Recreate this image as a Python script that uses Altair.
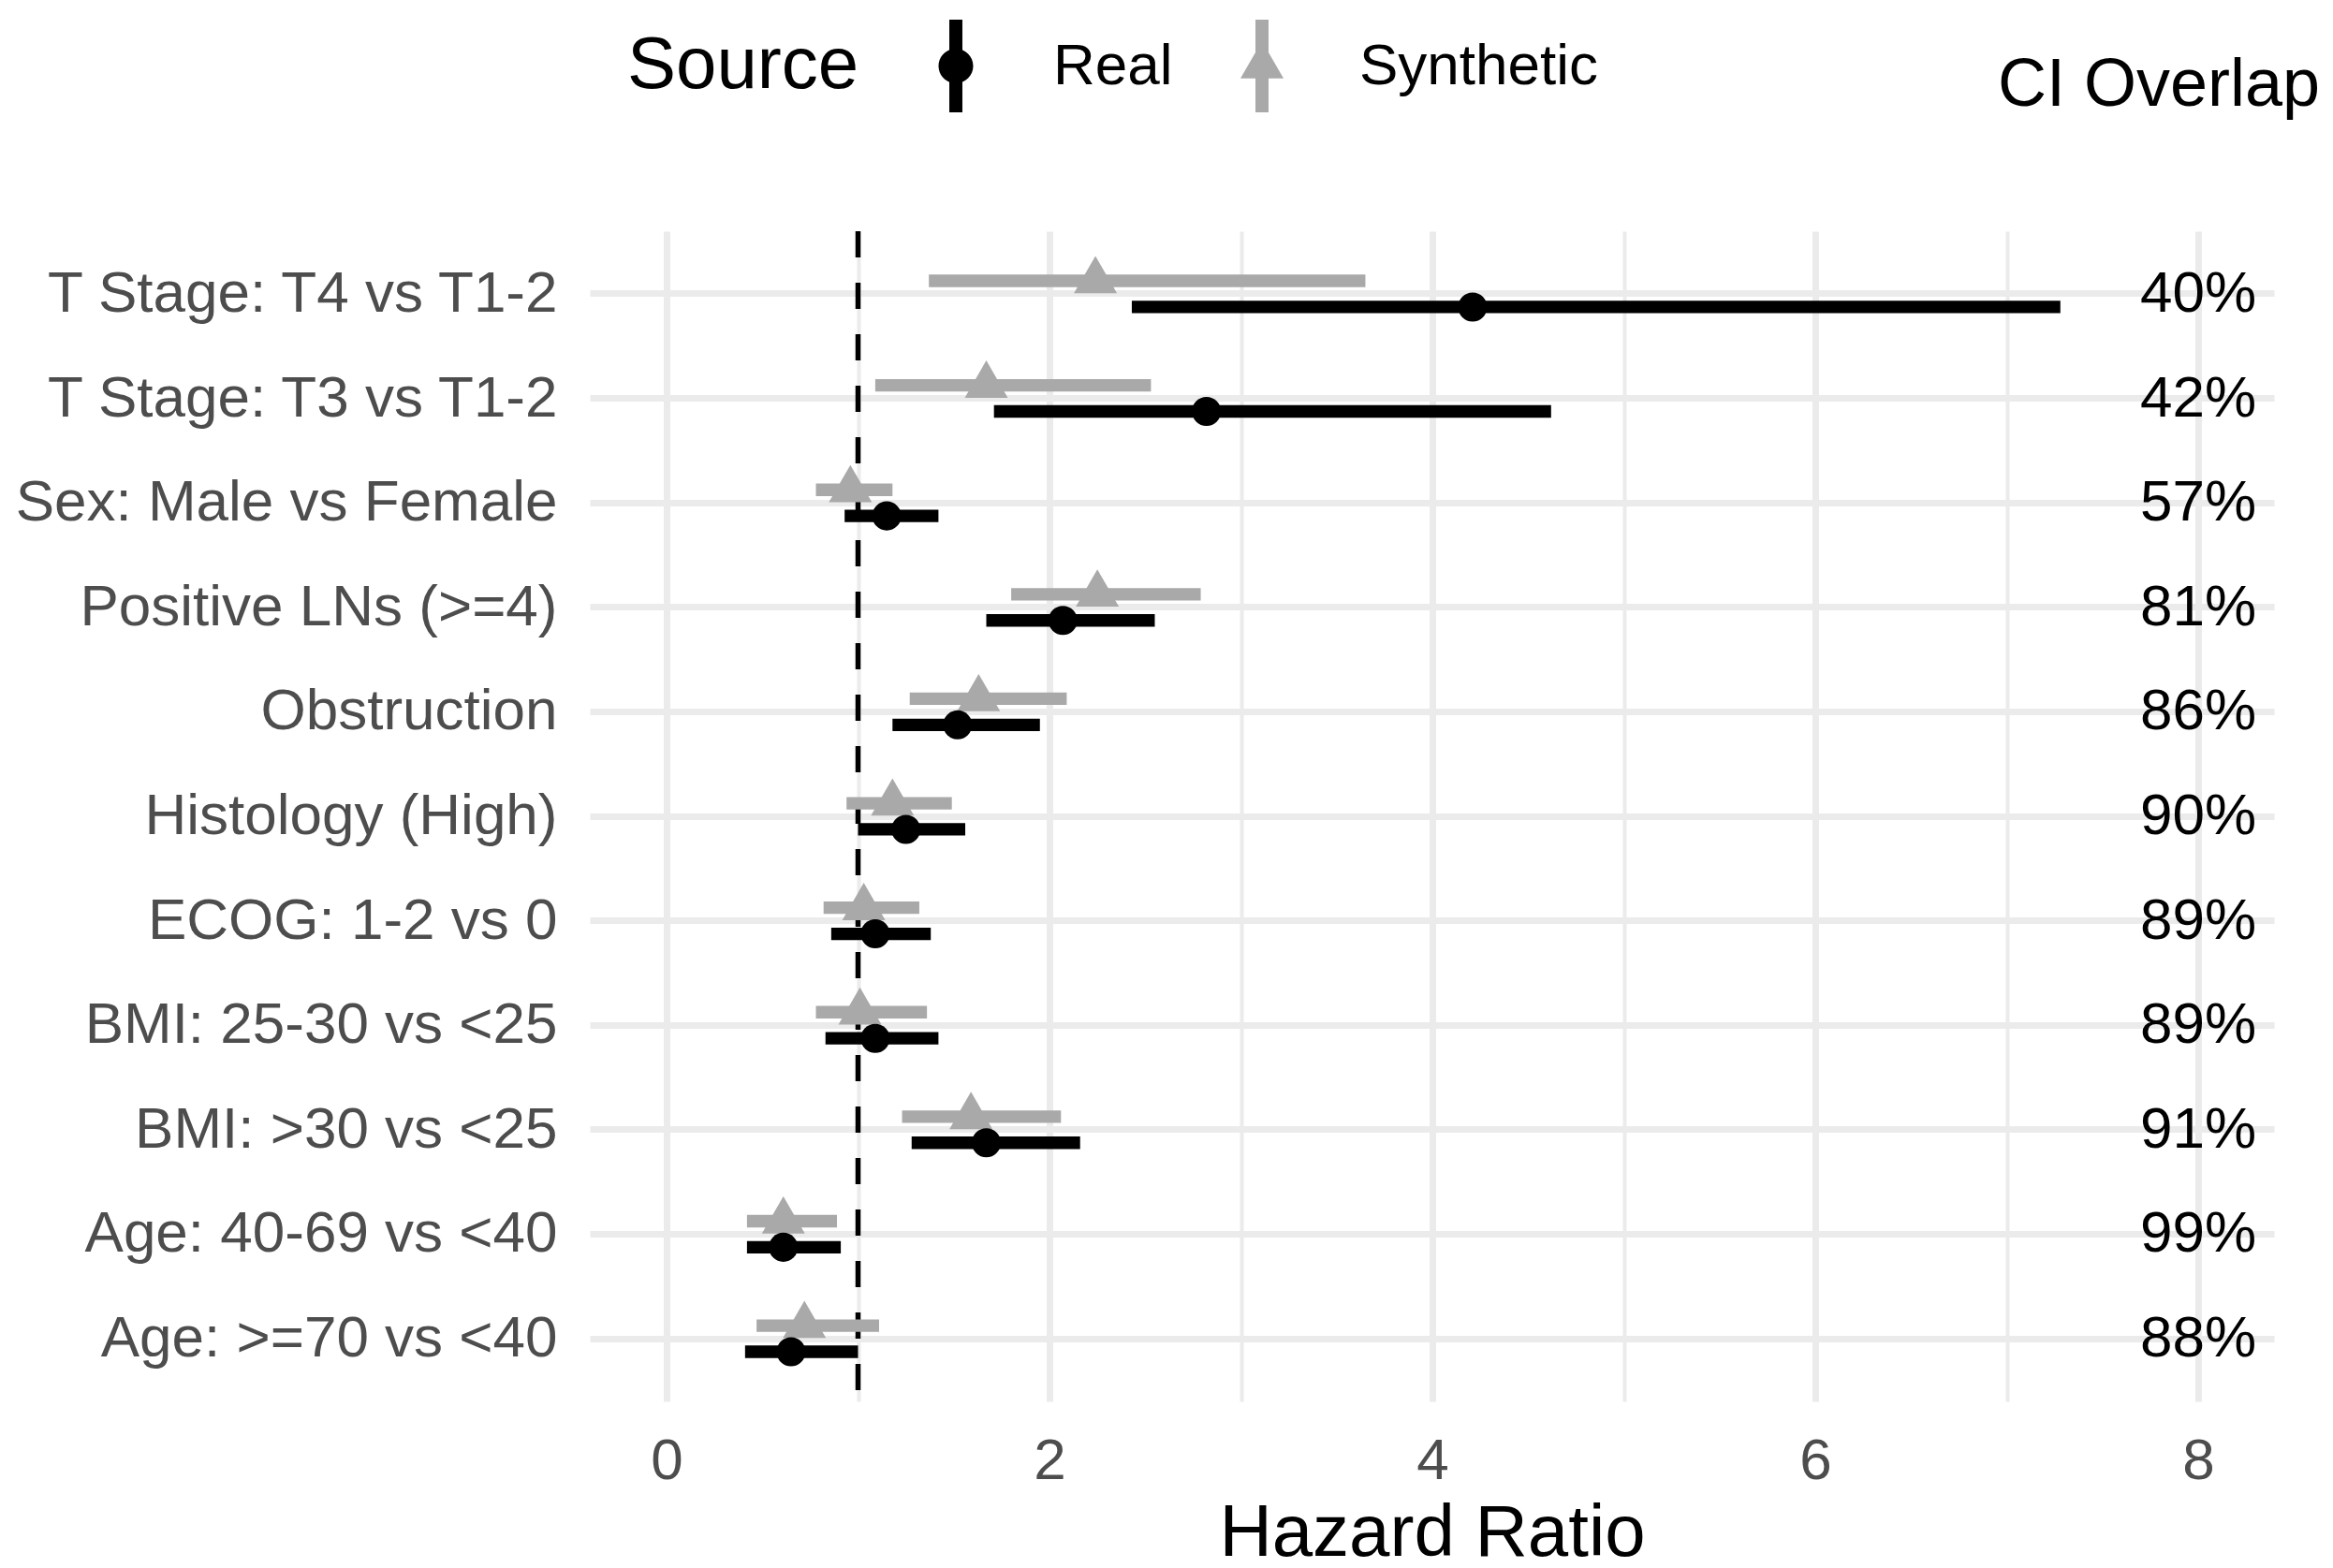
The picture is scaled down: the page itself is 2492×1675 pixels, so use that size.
import altair as alt
import pandas as pd

terms = ["T Stage: T4 vs T1-2", "T Stage: T3 vs T1-2", "Sex: Male vs Female",
         "Positive LNs (>=4)", "Obstruction", "Histology (High)", "ECOG: 1-2 vs 0",
         "BMI: 25-30 vs <25", "BMI: >30 vs <25", "Age: 40-69 vs <40", "Age: >=70 vs <40"]
real_hr = [4.21, 2.82, 1.15, 2.07, 1.52, 1.25, 1.09, 1.09, 1.67, 0.61, 0.65]
real_lo = [2.43, 1.71, 0.93, 1.67, 1.18, 1.00, 0.86, 0.83, 1.28, 0.42, 0.41]
real_hi = [7.28, 4.62, 1.42, 2.55, 1.95, 1.56, 1.38, 1.42, 2.16, 0.91, 1.00]
syn_hr = [2.24, 1.67, 0.96, 2.25, 1.63, 1.18, 1.03, 1.01, 1.59, 0.61, 0.72]
syn_lo = [1.37, 1.09, 0.78, 1.80, 1.27, 0.94, 0.82, 0.78, 1.23, 0.42, 0.47]
syn_hi = [3.65, 2.53, 1.18, 2.79, 2.09, 1.49, 1.32, 1.36, 2.06, 0.89, 1.11]
overlap = ["40%", "42%", "57%", "81%", "86%", "90%", "89%", "89%", "91%", "99%", "88%"]
x_ticks = [0, 1, 2, 3, 4, 5, 6, 7, 8]
overlap_title = ["CI Overlap"]

FONT = "Liberation Sans"
BLACK = "#000000"
GRAY = "#A9A9A9"
TRI = "M0,-1.155L1,0.577L-1,0.577Z"
LEG_REAL = ("M-0.141,-1L0.141,-1L0.141,1L-0.141,1Z "
            "M-0.374,0A0.374,0.374 0 1,1 0.374,0A0.374,0.374 0 1,1 -0.374,0Z")
LEG_SYN = ("M-0.141,-1L0.141,-1L0.141,1L-0.141,1Z "
           "M0,-0.537L0.465,0.268L-0.465,0.268Z")

rows = []
for i, t in enumerate(terms):
    rows.append({"term": t, "Source": "Real", "hr": real_hr[i], "lo": real_lo[i], "hi": real_hi[i]})
    rows.append({"term": t, "Source": "Synthetic", "hr": syn_hr[i], "lo": syn_lo[i], "hi": syn_hi[i]})
df = pd.DataFrame(rows)
lab = pd.DataFrame({"term": terms, "overlap": overlap})

y_enc = alt.Y("term:N", sort=terms, title=None,
              scale=alt.Scale(domain=terms, paddingInner=0, paddingOuter=0.1),
              axis=alt.Axis(grid=True, gridColor="#EBEBEB", gridWidth=7, ticks=False,
                            domain=False, labelPadding=35, labelFontSize=62, labelLimit=0,
                            labelColor="#4D4D4D", labelFont=FONT, bandPosition=0.5))
x_scale = alt.Scale(domain=[-0.401, 8.396], nice=False, zero=False)
x_axis = alt.Axis(values=x_ticks, grid=True, gridColor="#EBEBEB",
                  gridWidth={"condition": {"test": "datum.value % 2 === 0", "value": 7}, "value": 4},
                  labelExpr="datum.value % 2 === 0 ? datum.label : ''",
                  ticks=False, domain=False, labelPadding=33, labelFontSize=62,
                  labelColor="#4D4D4D", labelFont=FONT, title="Hazard Ratio",
                  titleFontSize=78, titleFont=FONT, titleFontWeight="normal",
                  titleColor=BLACK, titlePadding=8)
yoff = alt.YOffset("Source:N", scale=alt.Scale(domain=["Synthetic", "Real"],
                                               paddingInner=0, paddingOuter=1))

base = alt.Chart(df)

vline = alt.Chart(pd.DataFrame({"ref": [1]})).mark_rule(
    color=BLACK, strokeWidth=5.5, strokeDash=[28, 27]).encode(
    x=alt.X("ref:Q", scale=x_scale, axis=x_axis))

def ci(src, color):
    return base.transform_filter(alt.datum.Source == src).mark_rule(
        color=color, strokeWidth=13.3, strokeCap="butt").encode(
        x=alt.X("lo:Q", scale=x_scale, axis=x_axis), x2="hi:Q", y=y_enc, yOffset=yoff)

syn_pts = base.transform_filter(alt.datum.Source == "Synthetic").mark_point(
    shape=TRI, filled=True, size=2116, color=GRAY, opacity=1, strokeWidth=0).encode(
    x=alt.X("hr:Q", scale=x_scale, axis=x_axis), y=y_enc, yOffset=yoff)
real_pts = base.transform_filter(alt.datum.Source == "Real").mark_point(
    shape="circle", filled=True, size=962, color=BLACK, opacity=1, strokeWidth=0).encode(
    x=alt.X("hr:Q", scale=x_scale, axis=x_axis), y=y_enc, yOffset=yoff)

leg = alt.Legend(title="Source")
legend_layer = base.mark_point(filled=True, clip=True, size=100, opacity=1).encode(
    x=alt.datum(-20, scale=x_scale, axis=x_axis),
    y=y_enc,
    color=alt.Color("Source:N", scale=alt.Scale(domain=["Real", "Synthetic"], range=[BLACK, GRAY]), legend=leg),
    shape=alt.Shape("Source:N", scale=alt.Scale(domain=["Real", "Synthetic"], range=[LEG_REAL, LEG_SYN]), legend=leg),
)

texts = alt.Chart(lab).mark_text(fontSize=62, font=FONT, color=BLACK, align="center",
                                 baseline="middle").encode(
    x=alt.datum(8, scale=x_scale, axis=x_axis), y=y_enc, text="overlap:N")

ci_title = alt.Chart(pd.DataFrame({"t": overlap_title})).mark_text(
    fontSize=72, font=FONT, color=BLACK, align="left", baseline="alphabetic").encode(
    x=alt.value(1504), y=alt.value(-134), text="t:N")

chart = alt.layer(vline, ci("Synthetic", GRAY), ci("Real", BLACK), syn_pts, real_pts,
                  texts, legend_layer, ci_title).properties(
    width=1799, height=1250,
    padding={"left": 622, "top": 239, "right": 55, "bottom": 170},
    autosize=alt.AutoSizeParams(type="none"),
).configure(font=FONT).configure_view(stroke=None).configure_legend(
    orient="none", legendX=40, legendY=-226, direction="horizontal",
    titleOrient="left", titleFontSize=78, titleFont=FONT, titleFontWeight="normal",
    titleColor=BLACK, titleBaseline="middle", titleAnchor="middle", titlePadding=53.5,
    titleLimit=0, labelLimit=0,
    labelFontSize=62, labelFont=FONT, labelColor=BLACK, labelOffset=54.5,
    symbolSize=9801, symbolStrokeWidth=0, symbolOpacity=1, columnPadding=45,
)

chart.save("out.html", embed_options={"renderer": "svg", "actions": False})
